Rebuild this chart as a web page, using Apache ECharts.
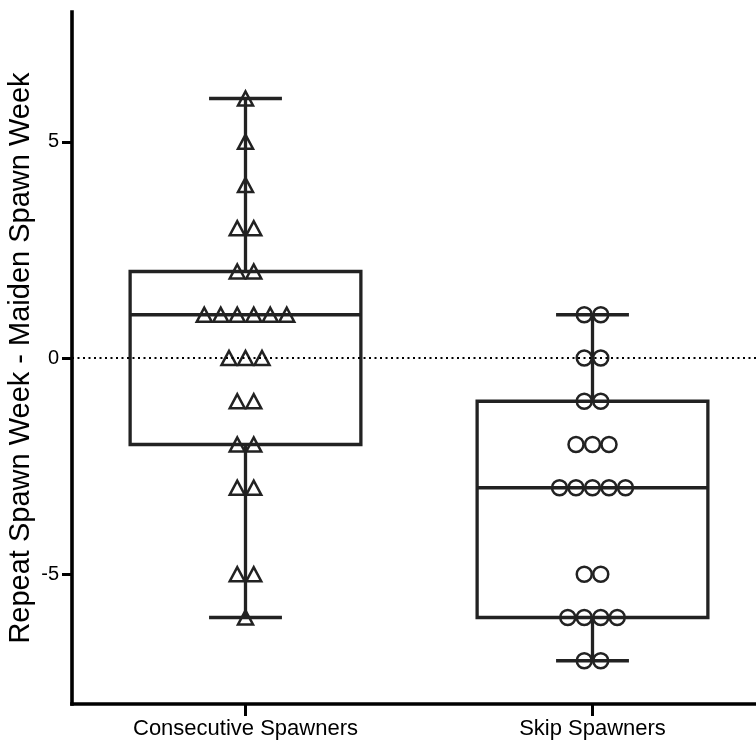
<!DOCTYPE html>
<html>
<head>
<meta charset="utf-8">
<script src="https://cdn.jsdelivr.net/npm/echarts@6/dist/echarts.min.js"></script>
<style>
html,body{margin:0;padding:0;background:#fff;}
#chart{width:756px;height:745px;}
</style>
</head>
<body>
<div id="chart"></div>
<script>
// ---- data ----
const categories = ['Consecutive Spawners', 'Skip Spawners'];
const consecutiveValues = [6, 5, 4, 3, 3, 2, 2, 1, 1, 1, 1, 1, 1, 0, 0, 0, -1, -1, -2, -2, -3, -3, -5, -5, -6];
const skipValues = [1, 1, 0, 0, -1, -1, -2, -2, -2, -3, -3, -3, -3, -3, -5, -5, -6, -6, -6, -6, -7, -7];
// [min, Q1, median, Q3, max]
const consecutiveBox = [-6, -2, 1, 2, 6];
const skipBox = [-7, -6, -3, -1, 1];
const yTicks = [-5, 0, 5];
const yTitle = 'Repeat Spawn Week - Maiden Spawn Week';

// ---- layout helpers ----
const FONT = "'Liberation Sans', Arial, Helvetica, sans-serif";
const SPACING = 16.5;
function swarm(cat, values) {
  const counts = {};
  values.forEach(v => { counts[v] = (counts[v] || 0) + 1; });
  const seen = {};
  return values.map(v => {
    const n = counts[v];
    const i = seen[v] || 0;
    seen[v] = i + 1;
    const dx = (i - (n - 1) / 2) * SPACING;
    return { value: [cat, v], symbolOffset: [dx, 0] };
  });
}

const boxData = [
  [0].concat(consecutiveBox),
  [1].concat(skipBox)
];

const LINE = '#222';
const LW = 3.3;

function renderBox(params, api) {
  const idx = api.value(0);
  const mn = api.value(1), q1 = api.value(2), md = api.value(3), q3 = api.value(4), mx = api.value(5);
  const band = api.size([1, 0])[0];
  const bw = band * 0.665;
  const cw = band * 0.21;
  const pMin = api.coord([idx, mn]);
  const pQ1 = api.coord([idx, q1]);
  const pMd = api.coord([idx, md]);
  const pQ3 = api.coord([idx, q3]);
  const pMax = api.coord([idx, mx]);
  const cx = pMd[0];
  const style = { stroke: LINE, lineWidth: LW, fill: null };
  return {
    type: 'group',
    children: [
      { type: 'rect', shape: { x: cx - bw / 2, y: pQ3[1], width: bw, height: pQ1[1] - pQ3[1] }, style: { stroke: LINE, lineWidth: LW, fill: 'none' } },
      { type: 'line', shape: { x1: cx - bw / 2, y1: pMd[1], x2: cx + bw / 2, y2: pMd[1] }, style: style },
      { type: 'line', shape: { x1: cx, y1: pQ3[1], x2: cx, y2: pMax[1] }, style: style },
      { type: 'line', shape: { x1: cx, y1: pQ1[1], x2: cx, y2: pMin[1] }, style: style },
      { type: 'line', shape: { x1: cx - cw / 2, y1: pMax[1], x2: cx + cw / 2, y2: pMax[1] }, style: style },
      { type: 'line', shape: { x1: cx - cw / 2, y1: pMin[1], x2: cx + cw / 2, y2: pMin[1] }, style: style }
    ]
  };
}

const chart = echarts.init(document.getElementById('chart'), null, { renderer: 'canvas' });
chart.setOption({
  animation: false,
  backgroundColor: '#fff',
  grid: { left: 72, top: 12, bottom: 41, width: 694, containLabel: false, outerBoundsMode: 'none' },
  xAxis: {
    type: 'category',
    data: categories,
    boundaryGap: true,
    axisLine: { show: true, onZero: false, lineStyle: { color: '#000', width: 3.6, cap: 'square' } },
    axisTick: { show: true, alignWithLabel: true, length: 12, lineStyle: { color: '#000', width: 3 } },
    axisLabel: { color: '#000', fontSize: 22, fontFamily: FONT, margin: 14 },
    splitLine: { show: false }
  },
  yAxis: {
    type: 'value',
    min: -8,
    max: 8,
    name: yTitle,
    nameLocation: 'middle',
    nameRotate: 90,
    nameGap: 37,
    nameMoveOverlap: false,
    nameTextStyle: { color: '#000', fontSize: 29, fontFamily: FONT },
    axisLine: { show: true, onZero: false, lineStyle: { color: '#000', width: 3.6, cap: 'square' } },
    axisTick: { show: true, length: 10, customValues: yTicks, lineStyle: { color: '#000', width: 3 } },
    axisLabel: { color: '#000', fontSize: 20, fontFamily: FONT, margin: 13, customValues: yTicks },
    splitLine: { show: false }
  },
  series: [
    {
      type: 'custom',
      renderItem: renderBox,
      data: boxData,
      encode: { x: 0, y: [1, 2, 3, 4, 5] },
      z: 2,
      silent: true,
      markLine: {
        silent: true,
        symbol: 'none',
        label: { show: false },
        lineStyle: { color: '#000', width: 2, type: [2, 3.5] },
        data: [{ yAxis: 0 }]
      }
    },
    {
      type: 'scatter',
      data: swarm(categories[0], consecutiveValues),
      symbol: 'triangle',
      symbolSize: [15, 14],
      itemStyle: { color: 'rgba(0,0,0,0)', borderColor: LINE, borderWidth: 2.5, opacity: 1 },
      z: 3,
      silent: true
    },
    {
      type: 'scatter',
      data: swarm(categories[1], skipValues),
      symbol: 'circle',
      symbolSize: 15,
      itemStyle: { color: 'rgba(0,0,0,0)', borderColor: LINE, borderWidth: 2.5, opacity: 1 },
      z: 3,
      silent: true
    }
  ]
});
</script>
</body>
</html>
